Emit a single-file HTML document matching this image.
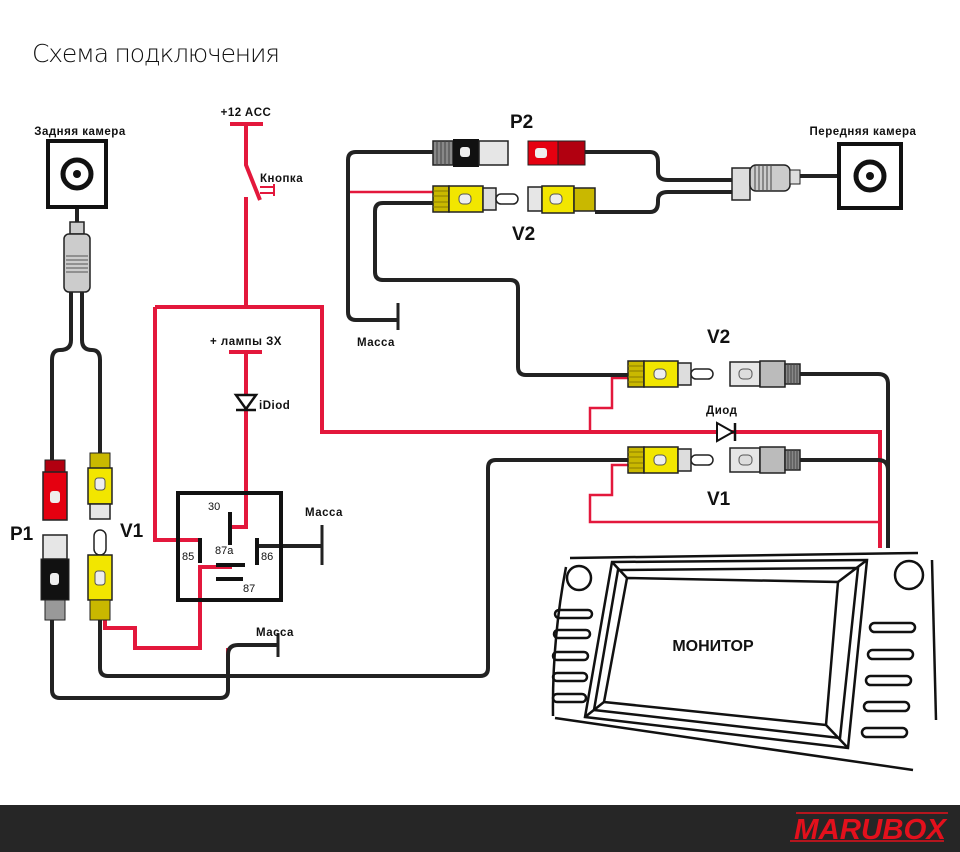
<!DOCTYPE html>
<html><head><meta charset="utf-8"><style>
html,body{margin:0;padding:0;background:#fff;}
svg{display:block;}
text{font-family:"Liberation Sans","DejaVu Sans",sans-serif;}
</style></head><body>
<svg width="960" height="852" viewBox="0 0 960 852" xmlns="http://www.w3.org/2000/svg">
<defs>
<g id="yf">
<rect x="0" y="-13" width="16" height="26" fill="#c9b800" stroke="#222" stroke-width="1.5"/>
<path d="M0,-8h16M0,-3h16M0,3h16M0,8h16" stroke="#8a7d00" stroke-width="1"/>
<path d="M16,-13 L50,-13 L50,13 L16,13Z" fill="#f2e600" stroke="#222" stroke-width="1.5"/>
<rect x="26" y="-5" width="12" height="10" rx="4" fill="#eee" stroke="#555"/>
<rect x="50" y="-11" width="13" height="22" fill="#ddd" stroke="#222" stroke-width="1.5"/>
<rect x="63" y="-5" width="22" height="10" rx="5" fill="#fff" stroke="#222" stroke-width="1.5"/>
</g>
<g id="gf">
<rect x="0" y="-12" width="30" height="24" fill="#e6e6e6" stroke="#222" stroke-width="1.5"/>
<rect x="9" y="-5" width="13" height="10" rx="4" fill="#ddd" stroke="#555"/>
<path d="M30,-13 L55,-13 L55,13 L30,13Z" fill="#bbb" stroke="#222" stroke-width="1.5"/>
<rect x="55" y="-10" width="15" height="20" fill="#888" stroke="#222" stroke-width="1.5"/>
<path d="M58,-10v20M61,-10v20M64,-10v20M67,-10v20" stroke="#444"/>
</g>
</defs>

<text x="32" y="62" font-size="25" fill="#111" font-weight="300" textLength="248" style="font-family:'DejaVu Sans','Liberation Sans',sans-serif">Схема подключения</text>

<g fill="none" stroke="#e3183c" stroke-width="4">
<path d="M230,124h33M246,124v41 L260,200 M246,197 V307"/>
<path d="M155,307 H322 V432 H880 V548"/>
<path d="M155,307 V540 H200"/>
<path d="M229,352h33M246,352 V527 H232"/>
<path d="M105,620 V628 H135 V648 H200 V567 H232"/>
<path d="M228,648 V668"/>
</g>
<g fill="none" stroke="#e3183c" stroke-width="2.5">
<path d="M350,192 H433"/>
<path d="M628,378 H612 V408 H590 V432"/>
<path d="M628,465 H612 V495 H590 V522 H880"/>
</g>
<path d="M260,187 h14 M260,193 h14 M274,184 v12" stroke="#e3183c" stroke-width="2" fill="none"/>
<path d="M236,395 h20 l-10,14 z" fill="#fff" stroke="#111" stroke-width="2.5"/>
<path d="M236,410 h20" stroke="#111" stroke-width="2.5"/>
<path d="M717,423 v18 l16,-9 z" fill="#fff" stroke="#111" stroke-width="2"/>
<path d="M735,423 v18" stroke="#111" stroke-width="2.5"/>

<g fill="none" stroke="#222" stroke-width="4" stroke-linejoin="round">
<path d="M77,208 V222"/>
<path d="M71,292 V340 Q71,350 60,350 Q52,350 52,360 V460"/>
<path d="M82,292 V340 Q82,350 92,350 Q100,350 100,360 V455"/>
<path d="M52,620 V690 Q52,698 60,698 H220 Q228,698 228,690 V655 Q228,645 238,645 H278"/>
<path d="M100,620 V668 Q100,676 108,676 H480 Q488,676 488,668 V468 Q488,460 496,460 H628"/>
<path d="M433,152 H356 Q348,152 348,160 V312 Q348,320 356,320 H398"/>
<path d="M433,203 H383 Q375,203 375,211 V272 Q375,280 383,280 H510 Q518,280 518,288 V367 Q518,375 526,375 H628"/>
<path d="M585,152 H650 Q658,152 658,162 V172 Q658,180 668,180 H732"/>
<path d="M595,212 H650 Q658,212 658,202 V200 Q658,192 668,192 H732"/>
<path d="M800,176 H840"/>
<path d="M800,374 H878 Q888,374 888,384 V548"/>
<path d="M800,460 H878 Q888,460 888,470"/>
<path d="M258,546 H322"/>
</g>
<g stroke="#222" stroke-width="3">
<path d="M398,303 V330 M278,633 V657 M322,525 V565"/>
</g>

<rect x="178" y="493" width="103" height="107" fill="none" stroke="#111" stroke-width="4"/>
<g stroke="#111" stroke-width="4">
<path d="M230,512 V545 M200,538 V563 M257,538 V565 M216,565 H245 M216,579 H243"/>
</g>
<g font-size="11" fill="#111">
<text x="208" y="510">30</text><text x="182" y="560">85</text><text x="261" y="560">86</text>
<text x="215" y="554">87a</text><text x="243" y="592">87</text>
</g>

<rect x="48" y="141" width="58" height="66" fill="#fff" stroke="#111" stroke-width="4"/>
<circle cx="77" cy="174" r="14" fill="none" stroke="#111" stroke-width="5"/>
<circle cx="77" cy="174" r="4" fill="#111"/>
<rect x="70" y="222" width="14" height="12" fill="#ccc" stroke="#222" stroke-width="1.5"/>
<rect x="64" y="234" width="26" height="58" rx="5" fill="#ccc" stroke="#222" stroke-width="1.5"/>
<path d="M66,256h22M66,260h22M66,264h22M66,268h22M66,272h22" stroke="#555"/>
<rect x="45" y="460" width="20" height="12" fill="#b10010" stroke="#222"/>
<path d="M43,472 h24 v48 h-24z" fill="#e50010" stroke="#222" stroke-width="1.5"/>
<rect x="50" y="491" width="10" height="12" rx="3" fill="#eee"/>
<rect x="90" y="453" width="20" height="15" fill="#c9b800" stroke="#222"/>
<path d="M88,468 h24 v36 h-24z" fill="#f2e600" stroke="#222" stroke-width="1.5"/>
<rect x="95" y="478" width="10" height="12" rx="3" fill="#eee" stroke="#555"/>
<rect x="90" y="504" width="20" height="15" fill="#e6e6e6" stroke="#222" stroke-width="1.5"/>
<rect x="43" y="535" width="24" height="24" fill="#e6e6e6" stroke="#222" stroke-width="1.5"/>
<path d="M41,559 h28 v41 h-28z" fill="#111" stroke="#222"/>
<rect x="50" y="573" width="9" height="12" rx="3" fill="#eee"/>
<rect x="45" y="600" width="20" height="20" fill="#999" stroke="#222"/>
<rect x="94" y="530" width="12" height="25" rx="6" fill="#fff" stroke="#222" stroke-width="1.5"/>
<path d="M88,555 h24 v45 h-24z" fill="#f2e600" stroke="#222" stroke-width="1.5"/>
<rect x="95" y="571" width="10" height="14" rx="3" fill="#eee" stroke="#555"/>
<rect x="90" y="600" width="20" height="20" fill="#c9b800" stroke="#222"/>

<rect x="433" y="141" width="20" height="24" fill="#888" stroke="#222" stroke-width="1.5"/>
<path d="M437,141v24M441,141v24M445,141v24M449,141v24" stroke="#444"/>
<rect x="453" y="139" width="26" height="28" fill="#111"/>
<rect x="460" y="147" width="10" height="10" rx="3" fill="#eee"/>
<rect x="479" y="141" width="29" height="24" fill="#e6e6e6" stroke="#222" stroke-width="1.5"/>
<rect x="528" y="141" width="30" height="24" fill="#e50010" stroke="#222"/>
<rect x="535" y="148" width="12" height="10" rx="3" fill="#eee"/>
<path d="M558,141 h27 v24 h-27z" fill="#b10010" stroke="#222"/>
<use href="#yf" x="433" y="199"/>
<rect x="528" y="187" width="14" height="24" fill="#e6e6e6" stroke="#222" stroke-width="1.5"/>
<rect x="542" y="186" width="32" height="27" fill="#f2e600" stroke="#222" stroke-width="1.5"/>
<rect x="550" y="194" width="12" height="10" rx="4" fill="#eee" stroke="#555"/>
<rect x="574" y="188" width="21" height="23" fill="#c9b800" stroke="#222" stroke-width="1.5"/>
<rect x="732" y="168" width="18" height="32" fill="#ddd" stroke="#222" stroke-width="1.5"/>
<rect x="750" y="165" width="40" height="26" rx="6" fill="#ccc" stroke="#222" stroke-width="1.5"/>
<path d="M755,166v24M759,166v24M763,166v24M767,166v24M771,166v24" stroke="#444"/>
<rect x="790" y="170" width="10" height="14" fill="#ddd" stroke="#222"/>
<rect x="839" y="144" width="62" height="64" fill="#fff" stroke="#111" stroke-width="4"/>
<circle cx="870" cy="176" r="14" fill="none" stroke="#111" stroke-width="5"/>
<circle cx="870" cy="176" r="4" fill="#111"/>

<use href="#yf" x="628" y="374"/>
<use href="#gf" x="730" y="374"/>
<use href="#yf" x="628" y="460"/>
<use href="#gf" x="730" y="460"/>

<g fill="none" stroke="#111" stroke-width="2.5">
<path d="M570,558 L918,553"/>
<path d="M566,567 Q552,640 553,716"/>
<path d="M932,560 L936,720"/>
<path d="M555,718 L913,770"/>
<path d="M612,562 L867,560 L848,748 L585,717 Z"/>
<path d="M618,570 L858,568 L840,738 L594,710 Z"/>
<path d="M627,578 L838,582 L826,725 L604,702 Z"/>
<path d="M612,562 L627,578 M867,560 L838,582 M848,748 L826,725 M585,717 L604,702"/>
<circle cx="579" cy="578" r="12"/>
<circle cx="909" cy="575" r="14"/>
<rect x="555" y="610" width="37" height="8" rx="4"/>
<rect x="554" y="630" width="36" height="8" rx="4"/>
<rect x="553" y="652" width="35" height="8" rx="4"/>
<rect x="553" y="673" width="34" height="8" rx="4"/>
<rect x="553" y="694" width="33" height="8" rx="4"/>
<rect x="870" y="623" width="45" height="9" rx="4.5"/>
<rect x="868" y="650" width="45" height="9" rx="4.5"/>
<rect x="866" y="676" width="45" height="9" rx="4.5"/>
<rect x="864" y="702" width="45" height="9" rx="4.5"/>
<rect x="862" y="728" width="45" height="9" rx="4.5"/>
</g>
<text x="713" y="651" font-size="16" font-weight="bold" text-anchor="middle" fill="#111">МОНИТОР</text>

<g font-size="11.5" font-weight="bold" fill="#111" letter-spacing="0.5">
<text x="80" y="135" text-anchor="middle">Задняя камера</text>
<text x="863" y="135" text-anchor="middle">Передняя камера</text>
<text x="246" y="116" text-anchor="middle">+12 ACC</text>
<text x="260" y="182">Кнопка</text>
<text x="246" y="345" text-anchor="middle">+ лампы ЗХ</text>
<text x="259" y="409">iDiod</text>
<text x="305" y="516">Масса</text>
<text x="256" y="636">Масса</text>
<text x="357" y="346">Масса</text>
<text x="706" y="414">Диод</text>
</g>
<g font-size="19" font-weight="bold" fill="#111">
<text x="10" y="540">P1</text>
<text x="120" y="537">V1</text>
<text x="510" y="128">P2</text>
<text x="512" y="240">V2</text>
<text x="707" y="343">V2</text>
<text x="707" y="505">V1</text>
</g>

<rect x="0" y="805" width="960" height="47" fill="#262626"/>
<path d="M796,813 H948" stroke="#e3101c" stroke-width="1.5"/>
<path d="M790,841 H944" stroke="#e3101c" stroke-width="1.5"/>
<text x="794" y="839" font-size="29" font-weight="bold" font-style="italic" fill="#e3101c" textLength="152" lengthAdjust="spacingAndGlyphs">MARUBOX</text>
</svg>
</body></html>
